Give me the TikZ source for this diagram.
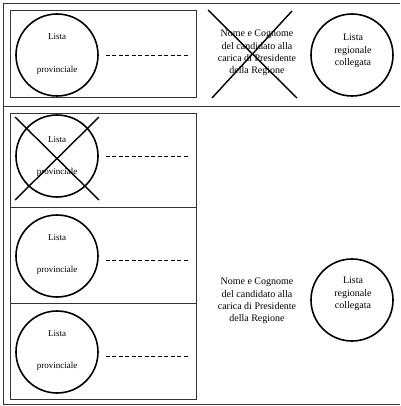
\documentclass[tikz,border=0pt]{standalone}
\usepackage{fontspec}
\setmainfont{Liberation Serif}
\begin{document}
\begin{tikzpicture}[x=1pt,y=-1pt,
  frame/.style={draw=black!80,line width=0.8pt},
  ring/.style={circle,draw=black,line width=1.6pt,minimum size=82pt,inner sep=0pt},
  lbl/.style={font=\fontsize{9}{11}\selectfont,inner sep=0pt},
  rtxt/.style={font=\fontsize{10}{12.3}\selectfont,align=center,inner sep=0pt},
  dotline/.style={draw=black,line width=0.9pt,dash pattern=on 4pt off 2.5pt},
  xline/.style={draw=black,line width=1.4pt}]
\useasboundingbox (0,0) rectangle (400,406);
% outer frame
\draw[frame] (400,3) -- (3,3) -- (3,404) -- (400,404);
\draw[frame] (3,106) -- (400,106);
% inner boxes
\draw[frame] (10,10) rectangle (196,97);
\draw[frame] (10,113) rectangle (196,399);
\draw[frame] (10,207) -- (196,207);
\draw[frame] (10,303) -- (196,303);

% top row
\node[ring] (c1) at (57,55) {};
\node[lbl] (l1a) at (57,37) {Lista};
\node[lbl] (l1b) at (57,70) {provinciale};
\coordinate (d1) at (188,55);
\draw[dotline] ([xshift=7pt]c1.east) -- (d1);
\node[rtxt] (n1) at (257,53) {Nome e Cognome\\del candidato alla\\carica di Presidente\\della Regione};
\coordinate (x1a) at (208,10);
\coordinate (x1b) at (297,98);
\coordinate (x1c) at (292,11);
\coordinate (x1d) at (212,98);
\draw[xline] (x1a) -- (x1b);
\draw[xline] (x1c) -- (x1d);
\node[ring] (r1) at (352,55) {};
\node[rtxt] (rt1) at (353,51) {Lista\\regionale\\collegata};

% bottom section
\node[ring] (c2) at (57,156) {};
\node[lbl] (l2a) at (57,140) {Lista};
\node[lbl] (l2b) at (57,172) {provinciale};
\coordinate (d2) at (188,156);
\draw[dotline] ([xshift=7pt]c2.east) -- (d2);
\coordinate (x2a) at (15,117);
\coordinate (x2b) at (99,200);
\coordinate (x2c) at (99,117);
\coordinate (x2d) at (15,200);
\draw[xline] (x2a) -- (x2b);
\draw[xline] (x2c) -- (x2d);

\node[ring] (c3) at (57,256) {};
\node[lbl] (l3a) at (57,238) {Lista};
\node[lbl] (l3b) at (57,270) {provinciale};
\coordinate (d3) at (188,260);
\draw[dotline] ([xshift=7pt]c3.east |- d3) -- (d3);

\node[ring] (c4) at (57,352) {};
\node[lbl] (l4a) at (57,334) {Lista};
\node[lbl] (l4b) at (57,366) {provinciale};
\coordinate (d4) at (188,356);
\draw[dotline] ([xshift=7pt]c4.east |- d4) -- (d4);

\node[rtxt] (n2) at (257,301) {Nome e Cognome\\del candidato alla\\carica di Presidente\\della Regione};
\node[ring] (r2) at (352,300) {};
\node[rtxt] (rt2) at (353,294) {Lista\\regionale\\collegata};
\end{tikzpicture}
\end{document}
